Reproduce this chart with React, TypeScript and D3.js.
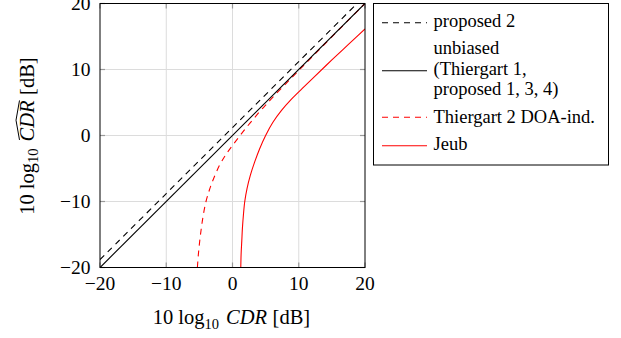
import React, { useEffect, useRef } from 'react';
import * as d3 from 'd3';

// values (x = 10log10 CDR, y = estimate, both dB)
const xTicks = [-20, -10, 0, 10, 20];
const yTicks = [-20, -10, 0, 10, 20];

const proposed2 = [[-20, -18.8], [-10, -8.8], [0, 1.2], [10, 11.2], [18.8, 20]];
const unbiased = [[-20, -20], [20, 20]];
const thiergart2 = [
  [-5.3, -20], [-5.15, -18], [-4.95, -16], [-4.7, -14], [-4.4, -12], [-4.0, -10],
  [-3.5, -8.3], [-3, -6.9], [-2, -4.6], [-1, -2.9], [0, -1.5], [1, -0.2], [2, 1.1],
  [3, 2.3], [4, 3.5], [5, 4.6], [6, 5.7], [8, 7.8], [10, 9.85], [12, 11.9],
  [15, 14.95], [20, 20],
];
const jeub = [
  [1.25, -20], [1.3, -18], [1.4, -16], [1.5, -14], [1.65, -12], [1.85, -10],
  [2.2, -8], [2.7, -6], [3.35, -4], [4.1, -2], [5.0, 0], [6.1, 2], [7.4, 3.8],
  [8.9, 5.5], [10.5, 7.1], [12.5, 9.05], [15, 11.45], [17.5, 13.8], [20, 16.15],
];

const legendLabels = [
  ['proposed 2'],
  ['unbiased', '(Thiergart 1,', 'proposed 1, 3, 4)'],
  ['Thiergart 2 DOA-ind.'],
  ['Jeub'],
];

const W = 621;
const H = 338;
const FONT = '"Liberation Serif", "Times New Roman", serif';

export default function App() {
  const svgRef = useRef<SVGSVGElement>(null);

  useEffect(() => {
    const svg = d3.select(svgRef.current);
    svg.selectAll('*').remove();

    const plot = { left: 100, top: 3.5, right: 365, bottom: 267.5 };
    const x = d3.scaleLinear().domain([-20, 20]).range([plot.left, plot.right]);
    const y = d3.scaleLinear().domain([-20, 20]).range([plot.bottom, plot.top]);

    // grid
    const grid = svg.append('g').attr('stroke', '#dcdcdc').attr('stroke-width', 1);
    xTicks.slice(1, -1).forEach(t => {
      grid.append('line').attr('x1', x(t)).attr('x2', x(t)).attr('y1', plot.top).attr('y2', plot.bottom);
    });
    yTicks.slice(1, -1).forEach(t => {
      grid.append('line').attr('y1', y(t)).attr('y2', y(t)).attr('x1', plot.left).attr('x2', plot.right);
    });

    // ticks, inside on all four sides
    const ticks = svg.append('g').attr('stroke', '#999').attr('stroke-width', 1.2);
    xTicks.forEach(t => {
      ticks.append('line').attr('x1', x(t)).attr('x2', x(t)).attr('y1', plot.bottom).attr('y2', plot.bottom - 5);
      ticks.append('line').attr('x1', x(t)).attr('x2', x(t)).attr('y1', plot.top).attr('y2', plot.top + 5);
    });
    yTicks.forEach(t => {
      ticks.append('line').attr('y1', y(t)).attr('y2', y(t)).attr('x1', plot.left).attr('x2', plot.left + 5);
      ticks.append('line').attr('y1', y(t)).attr('y2', y(t)).attr('x1', plot.right).attr('x2', plot.right - 5);
    });

    // curves
    svg.append('clipPath').attr('id', 'plot-clip')
      .append('rect')
      .attr('x', plot.left).attr('y', plot.top)
      .attr('width', plot.right - plot.left).attr('height', plot.bottom - plot.top);

    const line = d3.line<number[]>()
      .x(d => x(d[0]))
      .y(d => y(d[1]))
      .curve(d3.curveCatmullRom.alpha(0.5));

    const curves = svg.append('g').attr('clip-path', 'url(#plot-clip)').attr('fill', 'none');
    const series = [
      { data: jeub, color: '#ff0000', dash: null },
      { data: thiergart2, color: '#ff0000', dash: '6,5' },
      { data: unbiased, color: '#000', dash: null },
      { data: proposed2, color: '#000', dash: '6,5' },
    ];
    series.forEach(s => {
      curves.append('path')
        .attr('d', line(s.data))
        .attr('stroke', s.color)
        .attr('stroke-width', 1.1)
        .attr('stroke-dasharray', s.dash);
    });

    // frame
    svg.append('rect')
      .attr('x', plot.left).attr('y', plot.top)
      .attr('width', plot.right - plot.left).attr('height', plot.bottom - plot.top)
      .attr('fill', 'none').attr('stroke', '#000').attr('stroke-width', 1);

    const fmt = (t: number) => (t < 0 ? `\u2212${Math.abs(t)}` : `${t}`);

    // tick labels
    svg.append('g')
      .selectAll('text')
      .data(xTicks)
      .join('text')
      .attr('x', d => x(d))
      .attr('y', 290)
      .attr('text-anchor', 'middle')
      .style('font-family', FONT)
      .style('font-size', '19.5px')
      .text(d => fmt(d));

    svg.append('g')
      .selectAll('text')
      .data(yTicks)
      .join('text')
      .attr('x', 90.5)
      .attr('y', d => y(d))
      .attr('dy', '0.33em')
      .attr('text-anchor', 'end')
      .style('font-family', FONT)
      .style('font-size', '19.5px')
      .text(d => fmt(d));

    // axis title: 10 log_10 CDR [dB]
    const axisTitle = (g: d3.Selection<SVGGElement, unknown, null, undefined>) => {
      const t = g.append('text')
        .attr('text-anchor', 'middle')
        .style('font-family', FONT)
        .style('font-size', '20.5px');
      t.append('tspan').text('10');
      t.append('tspan').attr('dx', 5).text('log');
      t.append('tspan').attr('dy', 4.5).style('font-size', '14.5px').text('10');
      t.append('tspan').attr('dy', -4.5).attr('dx', 7).style('font-style', 'italic').text('CDR');
      t.append('tspan').attr('dx', 5.5).text('[dB]');
      return t;
    };

    axisTitle(svg.append('g').attr('transform', 'translate(231.5,324)'));

    const yTitleG = svg.append('g').attr('transform', 'translate(33.5,136) rotate(-90)');
    const yTitle = axisTitle(yTitleG);
    const node = yTitle.node() as SVGTextElement;
    const full = node.textContent || '';
    const ci = full.indexOf('CDR');
    if (ci >= 0) {
      const x0 = node.getStartPositionOfChar(ci).x + 1.5;
      const x1 = node.getEndPositionOfChar(ci + 2).x;
      yTitleG.append('path')
        .attr('d', `M${x0},-14 L${(x0 + x1) / 2},-17.5 L${x1},-14`)
        .attr('fill', 'none')
        .attr('stroke', '#000')
        .attr('stroke-width', 1);
    }

    // legend
    const legend = svg.append('g');
    legend.append('rect')
      .attr('x', 373.5).attr('y', 3.5)
      .attr('width', 235).attr('height', 161.5)
      .attr('fill', '#fff').attr('stroke', '#000').attr('stroke-width', 1);

    const legendStyle = [
      { color: '#000', dash: '6,5', lineY: 22.7, baseline: 27 },
      { color: '#000', dash: null, lineY: 70.7, baseline: 54 },
      { color: '#ff0000', dash: '6,5', lineY: 117.3, baseline: 123.3 },
      { color: '#ff0000', dash: null, lineY: 145.7, baseline: 150 },
    ];
    legendLabels.forEach((lines, i) => {
      const st = legendStyle[i];
      legend.append('line')
        .attr('x1', 382).attr('x2', 427)
        .attr('y1', st.lineY).attr('y2', st.lineY)
        .attr('stroke', st.color)
        .attr('stroke-width', 1.1)
        .attr('stroke-dasharray', st.dash);
      lines.forEach((txt, j) => {
        legend.append('text')
          .attr('x', 433.5)
          .attr('y', st.baseline + j * 20.7)
          .style('font-family', FONT)
          .style('font-size', '18.5px')
          .text(txt);
      });
    });
  }, []);

  return (
    <div style={{ position: 'absolute', left: 0, top: 0, width: W, height: H, background: '#fff' }}>
      <svg ref={svgRef} width={W} height={H} style={{ display: 'block' }} />
    </div>
  );
}
